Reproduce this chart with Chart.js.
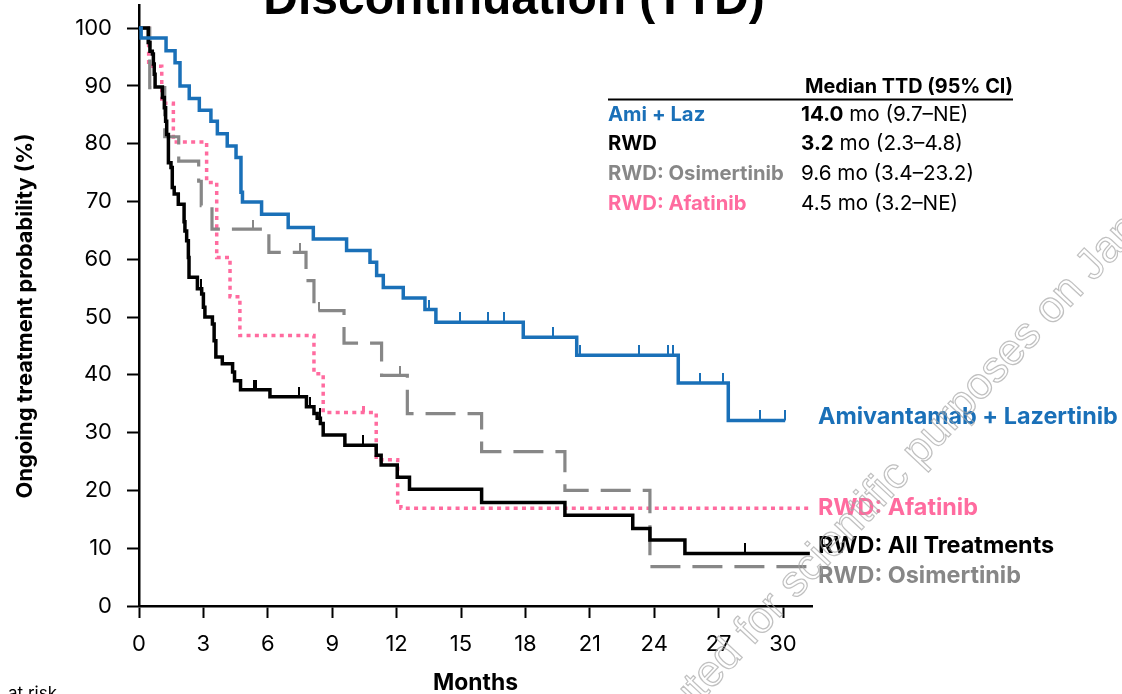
<!DOCTYPE html>
<html lang="en">
<head>
<meta charset="UTF-8" />
<title>Time to Treatment Discontinuation (TTD)</title>
<script src="https://cdn.jsdelivr.net/npm/chart.js"></script>
<style>
  html, body { margin: 0; padding: 0; background: #fff; }
  #ttdChart { display: block; }
</style>
</head>
<body>
<canvas id="ttdChart" width="1122" height="694"></canvas>
<script>
  // Kaplan-Meier steps (months -> % still on treatment)
  const amiLazMonths = [0, 0.1, 1.26, 1.68, 1.91, 2.34, 2.81, 3.35, 3.65, 4.11, 4.52, 4.75, 4.82, 5.71, 6.95, 8.12, 9.67, 10.76, 11.07, 11.38, 12.31, 13.32, 13.83, 17.9, 20.39, 25.12, 27.45, 30.1];
  const amiLazPct    = [100, 98.3, 96.1, 94.0, 90.0, 87.8, 85.8, 83.9, 81.7, 79.6, 77.6, 71.6, 69.9, 67.8, 65.5, 63.5, 61.5, 59.5, 57.2, 55.1, 53.3, 51.3, 49.1, 46.5, 43.4, 38.6, 32.1, 32.1];
  const amiLazCensored = [13.5, 14.95, 16.27, 17.0, 19.3, 20.54, 23.3, 24.65, 24.89, 26.13, 27.2, 28.95, 30.1];

  const rwdAllMonths = [0, 0.43, 0.51, 0.62, 0.67, 0.71, 0.75, 1.09, 1.18, 1.24, 1.29, 1.37, 1.49, 1.55, 1.64, 1.83, 2.10, 2.14, 2.22, 2.30, 2.33, 2.72, 2.92, 3.0, 3.07, 3.42, 3.50, 3.58, 3.88, 4.36, 4.45, 4.73, 6.1, 7.8, 8.15, 8.3, 8.45, 8.58, 9.59, 11.05, 11.28, 12.03, 12.6, 15.96, 19.84, 23.0, 23.8, 25.43, 31.25];
  const rwdAllPct    = [100, 97.5, 96.0, 95.5, 93.8, 92.0, 89.8, 88.0, 86.2, 83.9, 81.6, 76.7, 75.9, 72.4, 71.3, 69.5, 66.5, 64.9, 63.2, 60.3, 56.9, 54.9, 54.0, 51.7, 50.0, 48.8, 45.9, 43.1, 41.9, 40.5, 39.0, 37.4, 36.2, 34.5, 33.3, 32.5, 31.6, 29.6, 27.8, 26.1, 24.4, 22.3, 20.2, 17.9, 15.7, 13.4, 11.4, 9.1, 9.1];
  const rwdAllCensored = [2.9, 5.35, 5.45, 7.47, 7.97, 8.43, 10.42, 28.23];

  const osiMonths = [0, 0.5, 1.2, 1.85, 2.78, 2.9, 3.4, 6.05, 7.78, 8.15, 9.55, 11.3, 12.5, 15.96, 19.84, 23.8, 31.25];
  const osiPct    = [100, 89.7, 81.2, 77.0, 73.5, 69.3, 65.2, 61.2, 56.3, 51.1, 45.5, 39.9, 33.3, 26.7, 20.0, 6.8, 6.8];
  const osiCensored = [5.33, 7.5, 8.4, 12.16];

  const afaMonths = [0, 0.45, 1.06, 1.6, 3.15, 3.62, 4.24, 4.7, 8.15, 8.58, 11.05, 12.05, 12.2, 31.25];
  const afaPct    = [100, 93.4, 87.0, 80.3, 73.3, 60.3, 53.5, 46.8, 40.2, 33.5, 25.3, 17.6, 16.9, 16.9];
  const afaCensored = [10.45];

  const xTicks = [0, 3, 6, 9, 12, 15, 18, 21, 24, 27, 30];
  const yTicks = [0, 10, 20, 30, 40, 50, 60, 70, 80, 90, 100];

  const BLUE = '#1a70b8';
  const PINK = '#ff6b9f';
  const GREY = '#878787';
  const BLACK = '#000000';
  const FONT = 'Inter, "Noto Sans", sans-serif';

  // value of a step curve at time t
  function survivalAt(months, pct, t) {
    let v = pct[0];
    for (let i = 0; i < months.length; i++) {
      if (months[i] <= t) v = pct[i];
    }
    return v;
  }

  // little upward tick for censored patients (image is centred on the point)
  function censorMark(color, w, h) {
    const c = document.createElement('canvas');
    c.width = w;
    c.height = h * 2;
    const g = c.getContext('2d');
    g.fillStyle = color;
    g.fillRect(0, 0, w, h);
    return c;
  }

  function curve(label, months, pct, color, width, dash, order) {
    return {
      label: label,
      data: months.map((m, i) => ({ x: m, y: pct[i] })),
      showLine: true,
      stepped: 'before',
      borderColor: color,
      borderWidth: width,
      borderDash: dash,
      borderCapStyle: 'butt',
      borderJoinStyle: 'miter',
      pointRadius: 0,
      fill: false,
      order: order
    };
  }

  function censors(months, pct, censored, color, w, h, order) {
    return {
      data: censored.map(t => ({ x: t, y: survivalAt(months, pct, t) })),
      showLine: false,
      pointStyle: censorMark(color, w, h),
      pointRadius: 4,
      order: order
    };
  }

  function fitSize(ctx, text, weight, family, width) {
    ctx.font = weight + ' 100px ' + family;
    return 100 * width / ctx.measureText(text).width;
  }

  function drawRuns(ctx, x, y, runs, size, color) {
    ctx.fillStyle = color;
    ctx.textAlign = 'left';
    runs.forEach(r => {
      ctx.font = (r[1] ? 'bold ' : '') + size + 'px ' + FONT;
      ctx.fillText(r[0], x, y);
      x += ctx.measureText(r[0]).width;
    });
  }

  const textPlugin = {
    id: 'ttdText',
    afterDraw(chart) {
      const ctx = chart.ctx;
      ctx.save();
      ctx.textBaseline = 'alphabetic';

      // title (first line is cut off in the original)
      ctx.fillStyle = BLACK;
      ctx.textAlign = 'center';
      ctx.font = 'bold 48px "Liberation Sans", Arial, sans-serif';
      ctx.fillText('Discontinuation (TTD)', 514, 14);

      // axis titles
      ctx.save();
      ctx.translate(32, 316);
      ctx.rotate(-Math.PI / 2);
      const yt = 'Ongoing treatment probability (%)';
      ctx.font = 'bold ' + fitSize(ctx, yt, 'bold', FONT, 365) + 'px ' + FONT;
      ctx.textAlign = 'center';
      ctx.fillText(yt, 0, 0);
      ctx.restore();

      ctx.textAlign = 'center';
      ctx.font = 'bold ' + fitSize(ctx, 'Months', 'bold', FONT, 85) + 'px ' + FONT;
      ctx.fillText('Months', 475.5, 690);

      ctx.textAlign = 'left';
      ctx.font = '17px ' + FONT;
      ctx.fillText('at risk', 8, 699);

      // median table
      const head = 'Median TTD (95% CI)';
      const hs = fitSize(ctx, head, 'bold', FONT, 208);
      ctx.font = 'bold ' + hs + 'px ' + FONT;
      ctx.fillText(head, 805, 93);
      ctx.fillRect(608, 98.5, 405, 2);

      const ns = fitSize(ctx, 'RWD: Osimertinib', 'bold', FONT, 176);
      const vs = fitSize(ctx, '9.6 mo (3.4\u201323.2)', '', FONT, 173);
      const rows = [
        ['Ami + Laz', BLUE, [['14.0', true], [' mo (9.7\u2013NE)', false]], 121],
        ['RWD', BLACK, [['3.2', true], [' mo (2.3\u20134.8)', false]], 150],
        ['RWD: Osimertinib', GREY, [['9.6 mo (3.4\u201323.2)', false]], 180],
        ['RWD: Afatinib', PINK, [['4.5 mo (3.2\u2013NE)', false]], 210]
      ];
      rows.forEach(r => {
        drawRuns(ctx, 608, r[3], [[r[0], true]], ns, r[1]);
        drawRuns(ctx, 801, r[3], r[2], vs, BLACK);
      });

      // curve labels on the right
      const ls = fitSize(ctx, 'Amivantamab + Lazertinib', 'bold', FONT, 300);
      const labels = [
        ['Amivantamab + Lazertinib', BLUE, 424],
        ['RWD: Afatinib', PINK, 515],
        ['RWD: All Treatments', BLACK, 553],
        ['RWD: Osimertinib', GREY, 583]
      ];
      labels.forEach(l => drawRuns(ctx, 818, l[2], [[l[0], true]], ls, l[1]));

      // diagonal watermark, outlined letters
      ctx.save();
      ctx.translate(796, 600);
      ctx.rotate(-46.9 * Math.PI / 180);
      ctx.font = '44px "Liberation Sans", Arial, sans-serif';
      ctx.strokeStyle = 'rgba(165,165,165,0.7)';
      ctx.lineWidth = 1.2;
      ctx.textAlign = 'left';
      ctx.strokeText('scientific purposes on January', 0, 0);
      ctx.textAlign = 'right';
      ctx.strokeText('Distributed for ', 0, 0);
      ctx.restore();

      ctx.restore();
    }
  };

  const ctx = document.getElementById('ttdChart').getContext('2d');
  new Chart(ctx, {
    type: 'scatter',
    data: {
      datasets: [
        curve('RWD: Afatinib', afaMonths, afaPct, PINK, 3.5, [4, 4.3], 4),
        curve('RWD: Osimertinib', osiMonths, osiPct, GREY, 3.2, [30, 12], 3),
        curve('RWD: All Treatments', rwdAllMonths, rwdAllPct, BLACK, 3.5, [], 2),
        curve('Amivantamab + Lazertinib', amiLazMonths, amiLazPct, BLUE, 3.5, [], 1),
        censors(afaMonths, afaPct, afaCensored, PINK, 3, 6, 4),
        censors(osiMonths, osiPct, osiCensored, GREY, 2.5, 9, 3),
        censors(rwdAllMonths, rwdAllPct, rwdAllCensored, BLACK, 2.5, 10, 2),
        censors(amiLazMonths, amiLazPct, amiLazCensored, BLUE, 2.5, 10, 1)
      ]
    },
    options: {
      responsive: false,
      animation: false,
      events: [],
      layout: { padding: { left: 0, top: 3, right: 310, bottom: 0 } },
      plugins: {
        legend: { display: false },
        tooltip: { enabled: false }
      },
      scales: {
        x: {
          type: 'linear',
          min: 0,
          max: 31.35,
          afterFit: axis => {
            axis.height = 88;
            axis.paddingLeft = 0;
            axis.paddingRight = 0;
          },
          afterBuildTicks: axis => { axis.ticks = xTicks.map(v => ({ value: v })); },
          border: { color: BLACK, width: 2.5 },
          grid: { drawOnChartArea: false, drawTicks: true, tickLength: 12, tickWidth: 2, tickColor: BLACK },
          ticks: { color: BLACK, padding: 13, maxRotation: 0, autoSkip: false, font: { family: FONT, size: 22 } }
        },
        y: {
          type: 'linear',
          min: 0,
          max: 104,
          afterFit: axis => {
            axis.width = 139;
            axis.paddingTop = 0;
            axis.paddingBottom = 0;
          },
          afterBuildTicks: axis => { axis.ticks = yTicks.map(v => ({ value: v })); },
          border: { color: BLACK, width: 2.5 },
          grid: { drawOnChartArea: false, drawTicks: true, tickLength: 12, tickWidth: 2, tickColor: BLACK },
          ticks: { color: BLACK, padding: 15, font: { family: FONT, size: 22 } }
        }
      }
    },
    plugins: [textPlugin]
  });
</script>
</body>
</html>
